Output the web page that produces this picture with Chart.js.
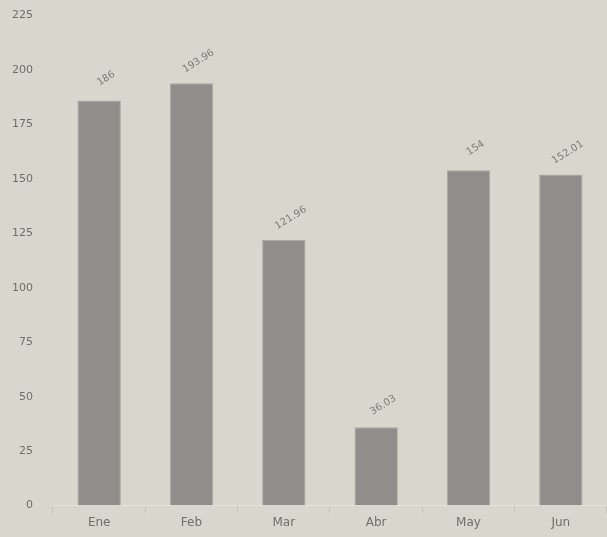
<!DOCTYPE html>
<html>
<head>
<meta charset="utf-8">
<script src="https://cdn.jsdelivr.net/npm/chart.js@4.4.1/dist/chart.umd.min.js"></script>
<style>
  html, body { margin: 0; padding: 0; background: #d8d7ce; overflow: hidden; }
  #wrap { width: 607px; height: 540px; margin-top: -3px; }
</style>
</head>
<body>
<div id="wrap"><canvas id="c"></canvas></div>
<script>
const categories = ["Ene", "Feb", "Mar", "Abr", "May", "Jun"];
const values = [186, 193.96, 121.96, 36.03, 154, 152.01];
const yTicks = [0, 25, 50, 75, 100, 125, 150, 175, 200, 225];

const valueLabels = {
  id: 'valueLabels',
  afterDatasetsDraw(chart) {
    const ctx = chart.ctx;
    const meta = chart.getDatasetMeta(0);
    ctx.save();
    ctx.fillStyle = '#7a7a76';
    ctx.font = '10px "DejaVu Sans"';
    ctx.textAlign = 'center';
    ctx.textBaseline = 'middle';
    meta.data.forEach((bar, i) => {
      ctx.save();
      ctx.translate(bar.x + 7, bar.y - 22);
      ctx.rotate(-32 * Math.PI / 180);
      ctx.fillText(String(values[i]), 0, 0);
      ctx.restore();
    });
    ctx.restore();
  }
};

new Chart(document.getElementById('c'), {
  type: 'bar',
  data: {
    labels: categories,
    datasets: [{
      data: values,
      backgroundColor: '#8f8e8a',
      borderColor: '#a9a8a2',
      borderWidth: 1,
      categoryPercentage: 1,
      barPercentage: 0.47
    }]
  },
  options: {
    responsive: true,
    maintainAspectRatio: false,
    animation: false,
    layout: { padding: { top: 0, right: 0, left: 0, bottom: 5 } },
    plugins: { legend: { display: false }, tooltip: { enabled: false } },
    scales: {
      x: {
        grid: { display: true, drawOnChartArea: false, color: '#c6c5bd', tickLength: 8, offset: true },
        border: { display: true, color: '#e6e5dd', width: 1 },
        ticks: { color: '#6e6e6b', font: { family: 'DejaVu Sans', size: 12 }, padding: 2 }
      },
      y: {
        min: 0, max: 225,
        afterBuildTicks(axis) { axis.ticks = yTicks.map(v => ({ value: v })); },
        grid: { display: false },
        border: { display: false },
        ticks: { color: '#6e6e6b', font: { family: 'DejaVu Sans', size: 11 }, padding: 12 }
      }
    }
  },
  plugins: [valueLabels]
});
</script>
</body>
</html>
